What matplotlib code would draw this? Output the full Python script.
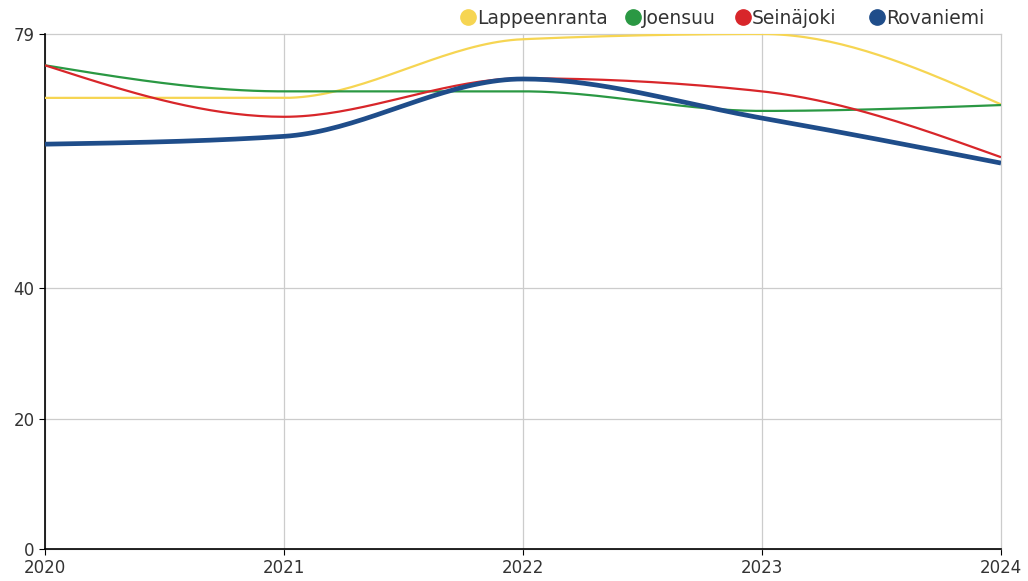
import numpy as np
import matplotlib

matplotlib.use("Agg")

import matplotlib.pyplot as plt  # noqa: E402

years = [2020, 2021, 2022, 2023, 2024]
cities = ["Lappeenranta", "Joensuu", "Seinäjoki", "Rovaniemi"]

lappeenranta = [69.2, 69.2, 78.2, 79.0, 68.2]
joensuu = [74.2, 70.2, 70.2, 67.2, 68.1]
seinajoki = [74.2, 66.3, 72.2, 70.2, 60.1]
rovaniemi = [62.1, 63.3, 72.1, 66.1, 59.2]

colors = ["#f6d552", "#2a9843", "#d8262a", "#1f4d8a"]
widths = [1.6, 1.6, 1.6, 3.4]
y_ticks = [0, 20, 40, 79]

# legend entry positions (pixels from the left edge of the figure)
legend_x = [468, 633, 743, 877]


def monotone_x(xs, ys, steps=40):
    """Sample a monotone cubic curve through the points (d3 curveMonotoneX)."""
    xs = np.asarray(xs, dtype=float)
    ys = np.asarray(ys, dtype=float)
    n = len(xs)
    h = np.diff(xs)
    s = np.diff(ys) / h
    t = np.zeros(n)
    for i in range(1, n - 1):
        p = (s[i - 1] * h[i] + s[i] * h[i - 1]) / (h[i - 1] + h[i])
        t[i] = (np.sign(s[i - 1]) + np.sign(s[i])) * min(abs(s[i - 1]), abs(s[i]), 0.5 * abs(p))
    t[0] = (3 * s[0] - t[1]) / 2
    t[-1] = (3 * s[-1] - t[-2]) / 2

    out_x, out_y = [], []
    u = np.linspace(0, 1, steps)
    for i in range(n - 1):
        dx = h[i] / 3
        px = [xs[i], xs[i] + dx, xs[i + 1] - dx, xs[i + 1]]
        py = [ys[i], ys[i] + dx * t[i], ys[i + 1] - dx * t[i + 1], ys[i + 1]]
        b = [(1 - u) ** 3, 3 * (1 - u) ** 2 * u, 3 * (1 - u) * u ** 2, u ** 3]
        out_x.extend(sum(b[k] * px[k] for k in range(4)))
        out_y.extend(sum(b[k] * py[k] for k in range(4)))
    return out_x, out_y


W, H = 1028, 581
fig = plt.figure(figsize=(W / 100, H / 100), dpi=100)
ax = fig.add_axes([45 / W, 32 / H, 956 / W, 515 / H])

for series, color, lw in zip([lappeenranta, joensuu, seinajoki, rovaniemi], colors, widths):
    cx, cy = monotone_x(years, series)
    ax.plot(cx, cy, color=color, linewidth=lw, solid_capstyle="butt", zorder=3)

ax.set_xlim(years[0], years[-1])
ax.set_ylim(0, 79)
ax.set_xticks(years)
ax.set_yticks(y_ticks)
ax.tick_params(labelsize=12, colors="black", labelcolor="#333333", length=4)

ax.grid(True, color="#cccccc", linewidth=0.9)
ax.set_axisbelow(True)
for line in ax.xaxis.get_gridlines() + ax.yaxis.get_gridlines():
    line.set_clip_on(False)
for side in ["top", "right"]:
    ax.spines[side].set_visible(False)
ax.spines["left"].set_linewidth(1.2)
ax.spines["bottom"].set_linewidth(1.2)

# legend drawn as circles + labels along the top edge
for name, color, px in zip(cities, colors, legend_x):
    fig.lines.append(
        plt.Line2D([px / W], [1 - 17 / H], transform=fig.transFigure, linestyle="none",
                   marker="o", markersize=11, color=color)
    )
    fig.text((px + 9) / W, 1 - 17 / H, name, fontsize=13.5, color="#333333",
             ha="left", va="center_baseline")

fig.savefig("out.png", dpi=100)
